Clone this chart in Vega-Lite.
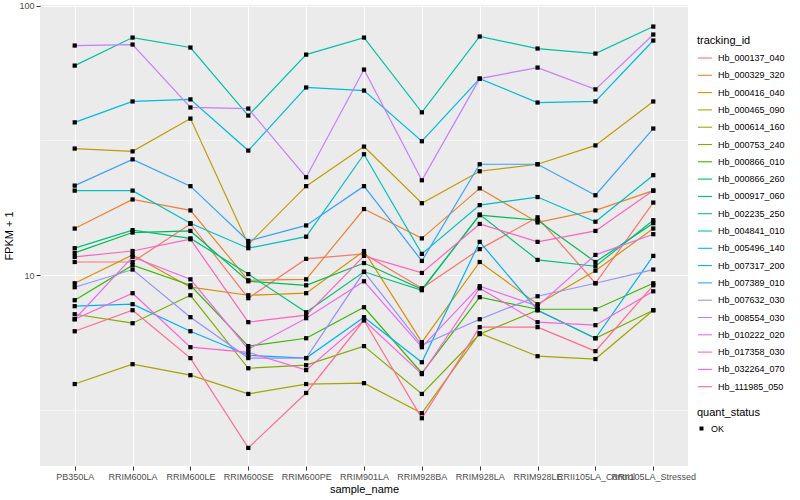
{
"$schema":"https://vega.github.io/schema/vega-lite/v6.json",
"width":648,"height":461,
"autosize":{"type":"none"},
"padding":{"left":40,"top":5,"right":112,"bottom":34},
"background":"white",
"config":{
 "font":"Liberation Sans",
 "view":{"fill":"#EBEBEB","stroke":null},
 "axis":{"domain":false,"gridColor":"white","tickColor":"#333333","tickSize":4,"labelColor":"#4D4D4D","labelFontSize":9,"titleFontSize":11,"titleFontWeight":"normal","titleColor":"black","labelPadding":2},
 "legend":{"labelFontSize":9,"labelColor":"black","titleFontSize":11,"titleFontWeight":"normal","titleColor":"black","labelOffset":5,"titlePadding":6}
},
"data":{"values":[
{"tracking_id":"Hb_000137_040","sample_name":"PB350LA","FPKM":11.2,"quant_status":"OK"},
{"tracking_id":"Hb_000137_040","sample_name":"RRIM600LA","FPKM":11.2,"quant_status":"OK"},
{"tracking_id":"Hb_000137_040","sample_name":"RRIM600LE","FPKM":15.5,"quant_status":"OK"},
{"tracking_id":"Hb_000137_040","sample_name":"RRIM600SE","FPKM":8.22,"quant_status":"OK"},
{"tracking_id":"Hb_000137_040","sample_name":"RRIM600PE","FPKM":11.5,"quant_status":"OK"},
{"tracking_id":"Hb_000137_040","sample_name":"RRIM901LA","FPKM":12.0,"quant_status":"OK"},
{"tracking_id":"Hb_000137_040","sample_name":"RRIM928BA","FPKM":8.95,"quant_status":"OK"},
{"tracking_id":"Hb_000137_040","sample_name":"RRIM928LA","FPKM":12.5,"quant_status":"OK"},
{"tracking_id":"Hb_000137_040","sample_name":"RRIM928LE","FPKM":16.4,"quant_status":"OK"},
{"tracking_id":"Hb_000137_040","sample_name":"RRII105LA_Control","FPKM":9.34,"quant_status":"OK"},
{"tracking_id":"Hb_000137_040","sample_name":"RRII105LA_Stressed","FPKM":18.6,"quant_status":"OK"},
{"tracking_id":"Hb_000329_320","sample_name":"PB350LA","FPKM":14.9,"quant_status":"OK"},
{"tracking_id":"Hb_000329_320","sample_name":"RRIM600LA","FPKM":19.1,"quant_status":"OK"},
{"tracking_id":"Hb_000329_320","sample_name":"RRIM600LE","FPKM":17.4,"quant_status":"OK"},
{"tracking_id":"Hb_000329_320","sample_name":"RRIM600SE","FPKM":9.58,"quant_status":"OK"},
{"tracking_id":"Hb_000329_320","sample_name":"RRIM600PE","FPKM":9.66,"quant_status":"OK"},
{"tracking_id":"Hb_000329_320","sample_name":"RRIM901LA","FPKM":17.6,"quant_status":"OK"},
{"tracking_id":"Hb_000329_320","sample_name":"RRIM928BA","FPKM":13.7,"quant_status":"OK"},
{"tracking_id":"Hb_000329_320","sample_name":"RRIM928LA","FPKM":21.0,"quant_status":"OK"},
{"tracking_id":"Hb_000329_320","sample_name":"RRIM928LE","FPKM":15.7,"quant_status":"OK"},
{"tracking_id":"Hb_000329_320","sample_name":"RRII105LA_Control","FPKM":17.4,"quant_status":"OK"},
{"tracking_id":"Hb_000329_320","sample_name":"RRII105LA_Stressed","FPKM":20.6,"quant_status":"OK"},
{"tracking_id":"Hb_000416_040","sample_name":"PB350LA","FPKM":9.34,"quant_status":"OK"},
{"tracking_id":"Hb_000416_040","sample_name":"RRIM600LA","FPKM":11.9,"quant_status":"OK"},
{"tracking_id":"Hb_000416_040","sample_name":"RRIM600LE","FPKM":9.03,"quant_status":"OK"},
{"tracking_id":"Hb_000416_040","sample_name":"RRIM600SE","FPKM":8.43,"quant_status":"OK"},
{"tracking_id":"Hb_000416_040","sample_name":"RRIM600PE","FPKM":8.58,"quant_status":"OK"},
{"tracking_id":"Hb_000416_040","sample_name":"RRIM901LA","FPKM":12.3,"quant_status":"OK"},
{"tracking_id":"Hb_000416_040","sample_name":"RRIM928BA","FPKM":5.65,"quant_status":"OK"},
{"tracking_id":"Hb_000416_040","sample_name":"RRIM928LA","FPKM":11.2,"quant_status":"OK"},
{"tracking_id":"Hb_000416_040","sample_name":"RRIM928LE","FPKM":7.81,"quant_status":"OK"},
{"tracking_id":"Hb_000416_040","sample_name":"RRII105LA_Control","FPKM":10.4,"quant_status":"OK"},
{"tracking_id":"Hb_000416_040","sample_name":"RRII105LA_Stressed","FPKM":14.9,"quant_status":"OK"},
{"tracking_id":"Hb_000465_090","sample_name":"PB350LA","FPKM":29.5,"quant_status":"OK"},
{"tracking_id":"Hb_000465_090","sample_name":"RRIM600LA","FPKM":28.8,"quant_status":"OK"},
{"tracking_id":"Hb_000465_090","sample_name":"RRIM600LE","FPKM":38.1,"quant_status":"OK"},
{"tracking_id":"Hb_000465_090","sample_name":"RRIM600SE","FPKM":13.0,"quant_status":"OK"},
{"tracking_id":"Hb_000465_090","sample_name":"RRIM600PE","FPKM":21.4,"quant_status":"OK"},
{"tracking_id":"Hb_000465_090","sample_name":"RRIM901LA","FPKM":30.0,"quant_status":"OK"},
{"tracking_id":"Hb_000465_090","sample_name":"RRIM928BA","FPKM":18.5,"quant_status":"OK"},
{"tracking_id":"Hb_000465_090","sample_name":"RRIM928LA","FPKM":24.3,"quant_status":"OK"},
{"tracking_id":"Hb_000465_090","sample_name":"RRIM928LE","FPKM":25.8,"quant_status":"OK"},
{"tracking_id":"Hb_000465_090","sample_name":"RRII105LA_Control","FPKM":30.3,"quant_status":"OK"},
{"tracking_id":"Hb_000465_090","sample_name":"RRII105LA_Stressed","FPKM":44.1,"quant_status":"OK"},
{"tracking_id":"Hb_000614_160","sample_name":"PB350LA","FPKM":3.95,"quant_status":"OK"},
{"tracking_id":"Hb_000614_160","sample_name":"RRIM600LA","FPKM":4.68,"quant_status":"OK"},
{"tracking_id":"Hb_000614_160","sample_name":"RRIM600LE","FPKM":4.26,"quant_status":"OK"},
{"tracking_id":"Hb_000614_160","sample_name":"RRIM600SE","FPKM":3.63,"quant_status":"OK"},
{"tracking_id":"Hb_000614_160","sample_name":"RRIM600PE","FPKM":3.95,"quant_status":"OK"},
{"tracking_id":"Hb_000614_160","sample_name":"RRIM901LA","FPKM":3.98,"quant_status":"OK"},
{"tracking_id":"Hb_000614_160","sample_name":"RRIM928BA","FPKM":3.08,"quant_status":"OK"},
{"tracking_id":"Hb_000614_160","sample_name":"RRIM928LA","FPKM":6.10,"quant_status":"OK"},
{"tracking_id":"Hb_000614_160","sample_name":"RRIM928LE","FPKM":5.01,"quant_status":"OK"},
{"tracking_id":"Hb_000614_160","sample_name":"RRII105LA_Control","FPKM":4.89,"quant_status":"OK"},
{"tracking_id":"Hb_000614_160","sample_name":"RRII105LA_Stressed","FPKM":7.42,"quant_status":"OK"},
{"tracking_id":"Hb_000753_240","sample_name":"PB350LA","FPKM":7.17,"quant_status":"OK"},
{"tracking_id":"Hb_000753_240","sample_name":"RRIM600LA","FPKM":6.64,"quant_status":"OK"},
{"tracking_id":"Hb_000753_240","sample_name":"RRIM600LE","FPKM":8.43,"quant_status":"OK"},
{"tracking_id":"Hb_000753_240","sample_name":"RRIM600SE","FPKM":4.52,"quant_status":"OK"},
{"tracking_id":"Hb_000753_240","sample_name":"RRIM600PE","FPKM":4.64,"quant_status":"OK"},
{"tracking_id":"Hb_000753_240","sample_name":"RRIM901LA","FPKM":5.46,"quant_status":"OK"},
{"tracking_id":"Hb_000753_240","sample_name":"RRIM928BA","FPKM":3.63,"quant_status":"OK"},
{"tracking_id":"Hb_000753_240","sample_name":"RRIM928LA","FPKM":6.05,"quant_status":"OK"},
{"tracking_id":"Hb_000753_240","sample_name":"RRIM928LE","FPKM":7.42,"quant_status":"OK"},
{"tracking_id":"Hb_000753_240","sample_name":"RRII105LA_Control","FPKM":5.84,"quant_status":"OK"},
{"tracking_id":"Hb_000753_240","sample_name":"RRII105LA_Stressed","FPKM":7.42,"quant_status":"OK"},
{"tracking_id":"Hb_000866_010","sample_name":"PB350LA","FPKM":8.08,"quant_status":"OK"},
{"tracking_id":"Hb_000866_010","sample_name":"RRIM600LA","FPKM":10.9,"quant_status":"OK"},
{"tracking_id":"Hb_000866_010","sample_name":"RRIM600LE","FPKM":9.18,"quant_status":"OK"},
{"tracking_id":"Hb_000866_010","sample_name":"RRIM600SE","FPKM":5.46,"quant_status":"OK"},
{"tracking_id":"Hb_000866_010","sample_name":"RRIM600PE","FPKM":5.84,"quant_status":"OK"},
{"tracking_id":"Hb_000866_010","sample_name":"RRIM901LA","FPKM":7.61,"quant_status":"OK"},
{"tracking_id":"Hb_000866_010","sample_name":"RRIM928BA","FPKM":4.34,"quant_status":"OK"},
{"tracking_id":"Hb_000866_010","sample_name":"RRIM928LA","FPKM":8.29,"quant_status":"OK"},
{"tracking_id":"Hb_000866_010","sample_name":"RRIM928LE","FPKM":7.48,"quant_status":"OK"},
{"tracking_id":"Hb_000866_010","sample_name":"RRII105LA_Control","FPKM":7.48,"quant_status":"OK"},
{"tracking_id":"Hb_000866_010","sample_name":"RRII105LA_Stressed","FPKM":9.34,"quant_status":"OK"},
{"tracking_id":"Hb_000866_260","sample_name":"PB350LA","FPKM":12.1,"quant_status":"OK"},
{"tracking_id":"Hb_000866_260","sample_name":"RRIM600LA","FPKM":14.4,"quant_status":"OK"},
{"tracking_id":"Hb_000866_260","sample_name":"RRIM600LE","FPKM":14.6,"quant_status":"OK"},
{"tracking_id":"Hb_000866_260","sample_name":"RRIM600SE","FPKM":9.50,"quant_status":"OK"},
{"tracking_id":"Hb_000866_260","sample_name":"RRIM600PE","FPKM":9.18,"quant_status":"OK"},
{"tracking_id":"Hb_000866_260","sample_name":"RRIM901LA","FPKM":11.1,"quant_status":"OK"},
{"tracking_id":"Hb_000866_260","sample_name":"RRIM928BA","FPKM":8.87,"quant_status":"OK"},
{"tracking_id":"Hb_000866_260","sample_name":"RRIM928LA","FPKM":16.7,"quant_status":"OK"},
{"tracking_id":"Hb_000866_260","sample_name":"RRIM928LE","FPKM":16.0,"quant_status":"OK"},
{"tracking_id":"Hb_000866_260","sample_name":"RRII105LA_Control","FPKM":11.2,"quant_status":"OK"},
{"tracking_id":"Hb_000866_260","sample_name":"RRII105LA_Stressed","FPKM":15.6,"quant_status":"OK"},
{"tracking_id":"Hb_000917_060","sample_name":"PB350LA","FPKM":12.6,"quant_status":"OK"},
{"tracking_id":"Hb_000917_060","sample_name":"RRIM600LA","FPKM":14.7,"quant_status":"OK"},
{"tracking_id":"Hb_000917_060","sample_name":"RRIM600LE","FPKM":13.7,"quant_status":"OK"},
{"tracking_id":"Hb_000917_060","sample_name":"RRIM600SE","FPKM":10.1,"quant_status":"OK"},
{"tracking_id":"Hb_000917_060","sample_name":"RRIM600PE","FPKM":7.29,"quant_status":"OK"},
{"tracking_id":"Hb_000917_060","sample_name":"RRIM901LA","FPKM":10.3,"quant_status":"OK"},
{"tracking_id":"Hb_000917_060","sample_name":"RRIM928BA","FPKM":8.80,"quant_status":"OK"},
{"tracking_id":"Hb_000917_060","sample_name":"RRIM928LA","FPKM":16.8,"quant_status":"OK"},
{"tracking_id":"Hb_000917_060","sample_name":"RRIM928LE","FPKM":11.4,"quant_status":"OK"},
{"tracking_id":"Hb_000917_060","sample_name":"RRII105LA_Control","FPKM":10.8,"quant_status":"OK"},
{"tracking_id":"Hb_000917_060","sample_name":"RRII105LA_Stressed","FPKM":16.0,"quant_status":"OK"},
{"tracking_id":"Hb_002235_250","sample_name":"PB350LA","FPKM":59.9,"quant_status":"OK"},
{"tracking_id":"Hb_002235_250","sample_name":"RRIM600LA","FPKM":76.1,"quant_status":"OK"},
{"tracking_id":"Hb_002235_250","sample_name":"RRIM600LE","FPKM":69.9,"quant_status":"OK"},
{"tracking_id":"Hb_002235_250","sample_name":"RRIM600SE","FPKM":39.1,"quant_status":"OK"},
{"tracking_id":"Hb_002235_250","sample_name":"RRIM600PE","FPKM":65.8,"quant_status":"OK"},
{"tracking_id":"Hb_002235_250","sample_name":"RRIM901LA","FPKM":76.1,"quant_status":"OK"},
{"tracking_id":"Hb_002235_250","sample_name":"RRIM928BA","FPKM":40.2,"quant_status":"OK"},
{"tracking_id":"Hb_002235_250","sample_name":"RRIM928LA","FPKM":76.8,"quant_status":"OK"},
{"tracking_id":"Hb_002235_250","sample_name":"RRIM928LE","FPKM":69.3,"quant_status":"OK"},
{"tracking_id":"Hb_002235_250","sample_name":"RRII105LA_Control","FPKM":66.4,"quant_status":"OK"},
{"tracking_id":"Hb_002235_250","sample_name":"RRII105LA_Stressed","FPKM":83.6,"quant_status":"OK"},
{"tracking_id":"Hb_004841_010","sample_name":"PB350LA","FPKM":20.6,"quant_status":"OK"},
{"tracking_id":"Hb_004841_010","sample_name":"RRIM600LA","FPKM":20.6,"quant_status":"OK"},
{"tracking_id":"Hb_004841_010","sample_name":"RRIM600LE","FPKM":15.6,"quant_status":"OK"},
{"tracking_id":"Hb_004841_010","sample_name":"RRIM600SE","FPKM":12.6,"quant_status":"OK"},
{"tracking_id":"Hb_004841_010","sample_name":"RRIM600PE","FPKM":13.9,"quant_status":"OK"},
{"tracking_id":"Hb_004841_010","sample_name":"RRIM901LA","FPKM":28.1,"quant_status":"OK"},
{"tracking_id":"Hb_004841_010","sample_name":"RRIM928BA","FPKM":12.0,"quant_status":"OK"},
{"tracking_id":"Hb_004841_010","sample_name":"RRIM928LA","FPKM":18.2,"quant_status":"OK"},
{"tracking_id":"Hb_004841_010","sample_name":"RRIM928LE","FPKM":19.5,"quant_status":"OK"},
{"tracking_id":"Hb_004841_010","sample_name":"RRII105LA_Control","FPKM":15.8,"quant_status":"OK"},
{"tracking_id":"Hb_004841_010","sample_name":"RRII105LA_Stressed","FPKM":23.5,"quant_status":"OK"},
{"tracking_id":"Hb_005496_140","sample_name":"PB350LA","FPKM":36.9,"quant_status":"OK"},
{"tracking_id":"Hb_005496_140","sample_name":"RRIM600LA","FPKM":44.1,"quant_status":"OK"},
{"tracking_id":"Hb_005496_140","sample_name":"RRIM600LE","FPKM":44.9,"quant_status":"OK"},
{"tracking_id":"Hb_005496_140","sample_name":"RRIM600SE","FPKM":29.0,"quant_status":"OK"},
{"tracking_id":"Hb_005496_140","sample_name":"RRIM600PE","FPKM":49.7,"quant_status":"OK"},
{"tracking_id":"Hb_005496_140","sample_name":"RRIM901LA","FPKM":48.4,"quant_status":"OK"},
{"tracking_id":"Hb_005496_140","sample_name":"RRIM928BA","FPKM":31.4,"quant_status":"OK"},
{"tracking_id":"Hb_005496_140","sample_name":"RRIM928LA","FPKM":53.6,"quant_status":"OK"},
{"tracking_id":"Hb_005496_140","sample_name":"RRIM928LE","FPKM":43.7,"quant_status":"OK"},
{"tracking_id":"Hb_005496_140","sample_name":"RRII105LA_Control","FPKM":44.1,"quant_status":"OK"},
{"tracking_id":"Hb_005496_140","sample_name":"RRII105LA_Stressed","FPKM":74.2,"quant_status":"OK"},
{"tracking_id":"Hb_007317_200","sample_name":"PB350LA","FPKM":7.68,"quant_status":"OK"},
{"tracking_id":"Hb_007317_200","sample_name":"RRIM600LA","FPKM":7.81,"quant_status":"OK"},
{"tracking_id":"Hb_007317_200","sample_name":"RRIM600LE","FPKM":6.20,"quant_status":"OK"},
{"tracking_id":"Hb_007317_200","sample_name":"RRIM600SE","FPKM":5.05,"quant_status":"OK"},
{"tracking_id":"Hb_007317_200","sample_name":"RRIM600PE","FPKM":4.93,"quant_status":"OK"},
{"tracking_id":"Hb_007317_200","sample_name":"RRIM901LA","FPKM":6.99,"quant_status":"OK"},
{"tracking_id":"Hb_007317_200","sample_name":"RRIM928BA","FPKM":4.76,"quant_status":"OK"},
{"tracking_id":"Hb_007317_200","sample_name":"RRIM928LA","FPKM":13.3,"quant_status":"OK"},
{"tracking_id":"Hb_007317_200","sample_name":"RRIM928LE","FPKM":7.42,"quant_status":"OK"},
{"tracking_id":"Hb_007317_200","sample_name":"RRII105LA_Control","FPKM":5.84,"quant_status":"OK"},
{"tracking_id":"Hb_007317_200","sample_name":"RRII105LA_Stressed","FPKM":11.8,"quant_status":"OK"},
{"tracking_id":"Hb_007389_010","sample_name":"PB350LA","FPKM":21.5,"quant_status":"OK"},
{"tracking_id":"Hb_007389_010","sample_name":"RRIM600LA","FPKM":26.9,"quant_status":"OK"},
{"tracking_id":"Hb_007389_010","sample_name":"RRIM600LE","FPKM":21.4,"quant_status":"OK"},
{"tracking_id":"Hb_007389_010","sample_name":"RRIM600SE","FPKM":13.4,"quant_status":"OK"},
{"tracking_id":"Hb_007389_010","sample_name":"RRIM600PE","FPKM":15.3,"quant_status":"OK"},
{"tracking_id":"Hb_007389_010","sample_name":"RRIM901LA","FPKM":21.4,"quant_status":"OK"},
{"tracking_id":"Hb_007389_010","sample_name":"RRIM928BA","FPKM":11.3,"quant_status":"OK"},
{"tracking_id":"Hb_007389_010","sample_name":"RRIM928LA","FPKM":25.8,"quant_status":"OK"},
{"tracking_id":"Hb_007389_010","sample_name":"RRIM928LE","FPKM":25.8,"quant_status":"OK"},
{"tracking_id":"Hb_007389_010","sample_name":"RRII105LA_Control","FPKM":19.8,"quant_status":"OK"},
{"tracking_id":"Hb_007389_010","sample_name":"RRII105LA_Stressed","FPKM":35.0,"quant_status":"OK"},
{"tracking_id":"Hb_007632_030","sample_name":"PB350LA","FPKM":9.03,"quant_status":"OK"},
{"tracking_id":"Hb_007632_030","sample_name":"RRIM600LA","FPKM":10.5,"quant_status":"OK"},
{"tracking_id":"Hb_007632_030","sample_name":"RRIM600LE","FPKM":6.99,"quant_status":"OK"},
{"tracking_id":"Hb_007632_030","sample_name":"RRIM600SE","FPKM":4.93,"quant_status":"OK"},
{"tracking_id":"Hb_007632_030","sample_name":"RRIM600PE","FPKM":4.93,"quant_status":"OK"},
{"tracking_id":"Hb_007632_030","sample_name":"RRIM901LA","FPKM":10.3,"quant_status":"OK"},
{"tracking_id":"Hb_007632_030","sample_name":"RRIM928BA","FPKM":5.51,"quant_status":"OK"},
{"tracking_id":"Hb_007632_030","sample_name":"RRIM928LA","FPKM":6.87,"quant_status":"OK"},
{"tracking_id":"Hb_007632_030","sample_name":"RRIM928LE","FPKM":8.36,"quant_status":"OK"},
{"tracking_id":"Hb_007632_030","sample_name":"RRII105LA_Control","FPKM":9.34,"quant_status":"OK"},
{"tracking_id":"Hb_007632_030","sample_name":"RRII105LA_Stressed","FPKM":10.5,"quant_status":"OK"},
{"tracking_id":"Hb_008554_030","sample_name":"PB350LA","FPKM":71.1,"quant_status":"OK"},
{"tracking_id":"Hb_008554_030","sample_name":"RRIM600LA","FPKM":71.7,"quant_status":"OK"},
{"tracking_id":"Hb_008554_030","sample_name":"RRIM600LE","FPKM":41.9,"quant_status":"OK"},
{"tracking_id":"Hb_008554_030","sample_name":"RRIM600SE","FPKM":41.5,"quant_status":"OK"},
{"tracking_id":"Hb_008554_030","sample_name":"RRIM600PE","FPKM":23.1,"quant_status":"OK"},
{"tracking_id":"Hb_008554_030","sample_name":"RRIM901LA","FPKM":57.9,"quant_status":"OK"},
{"tracking_id":"Hb_008554_030","sample_name":"RRIM928BA","FPKM":22.5,"quant_status":"OK"},
{"tracking_id":"Hb_008554_030","sample_name":"RRIM928LA","FPKM":53.6,"quant_status":"OK"},
{"tracking_id":"Hb_008554_030","sample_name":"RRIM928LE","FPKM":58.9,"quant_status":"OK"},
{"tracking_id":"Hb_008554_030","sample_name":"RRII105LA_Control","FPKM":48.9,"quant_status":"OK"},
{"tracking_id":"Hb_008554_030","sample_name":"RRII105LA_Stressed","FPKM":78.1,"quant_status":"OK"},
{"tracking_id":"Hb_010222_020","sample_name":"PB350LA","FPKM":6.87,"quant_status":"OK"},
{"tracking_id":"Hb_010222_020","sample_name":"RRIM600LA","FPKM":11.7,"quant_status":"OK"},
{"tracking_id":"Hb_010222_020","sample_name":"RRIM600LE","FPKM":9.66,"quant_status":"OK"},
{"tracking_id":"Hb_010222_020","sample_name":"RRIM600SE","FPKM":5.32,"quant_status":"OK"},
{"tracking_id":"Hb_010222_020","sample_name":"RRIM600PE","FPKM":6.93,"quant_status":"OK"},
{"tracking_id":"Hb_010222_020","sample_name":"RRIM901LA","FPKM":9.50,"quant_status":"OK"},
{"tracking_id":"Hb_010222_020","sample_name":"RRIM928BA","FPKM":5.41,"quant_status":"OK"},
{"tracking_id":"Hb_010222_020","sample_name":"RRIM928LA","FPKM":9.11,"quant_status":"OK"},
{"tracking_id":"Hb_010222_020","sample_name":"RRIM928LE","FPKM":7.68,"quant_status":"OK"},
{"tracking_id":"Hb_010222_020","sample_name":"RRII105LA_Control","FPKM":11.9,"quant_status":"OK"},
{"tracking_id":"Hb_010222_020","sample_name":"RRII105LA_Stressed","FPKM":14.2,"quant_status":"OK"},
{"tracking_id":"Hb_017358_030","sample_name":"PB350LA","FPKM":6.87,"quant_status":"OK"},
{"tracking_id":"Hb_017358_030","sample_name":"RRIM600LA","FPKM":8.58,"quant_status":"OK"},
{"tracking_id":"Hb_017358_030","sample_name":"RRIM600LE","FPKM":5.41,"quant_status":"OK"},
{"tracking_id":"Hb_017358_030","sample_name":"RRIM600SE","FPKM":5.18,"quant_status":"OK"},
{"tracking_id":"Hb_017358_030","sample_name":"RRIM600PE","FPKM":4.45,"quant_status":"OK"},
{"tracking_id":"Hb_017358_030","sample_name":"RRIM901LA","FPKM":6.81,"quant_status":"OK"},
{"tracking_id":"Hb_017358_030","sample_name":"RRIM928BA","FPKM":4.30,"quant_status":"OK"},
{"tracking_id":"Hb_017358_030","sample_name":"RRIM928LA","FPKM":8.95,"quant_status":"OK"},
{"tracking_id":"Hb_017358_030","sample_name":"RRIM928LE","FPKM":6.70,"quant_status":"OK"},
{"tracking_id":"Hb_017358_030","sample_name":"RRII105LA_Control","FPKM":6.53,"quant_status":"OK"},
{"tracking_id":"Hb_017358_030","sample_name":"RRII105LA_Stressed","FPKM":8.72,"quant_status":"OK"},
{"tracking_id":"Hb_032264_070","sample_name":"PB350LA","FPKM":11.7,"quant_status":"OK"},
{"tracking_id":"Hb_032264_070","sample_name":"RRIM600LA","FPKM":12.3,"quant_status":"OK"},
{"tracking_id":"Hb_032264_070","sample_name":"RRIM600LE","FPKM":13.6,"quant_status":"OK"},
{"tracking_id":"Hb_032264_070","sample_name":"RRIM600SE","FPKM":6.70,"quant_status":"OK"},
{"tracking_id":"Hb_032264_070","sample_name":"RRIM600PE","FPKM":7.11,"quant_status":"OK"},
{"tracking_id":"Hb_032264_070","sample_name":"RRIM901LA","FPKM":11.8,"quant_status":"OK"},
{"tracking_id":"Hb_032264_070","sample_name":"RRIM928BA","FPKM":10.2,"quant_status":"OK"},
{"tracking_id":"Hb_032264_070","sample_name":"RRIM928LA","FPKM":15.5,"quant_status":"OK"},
{"tracking_id":"Hb_032264_070","sample_name":"RRIM928LE","FPKM":13.3,"quant_status":"OK"},
{"tracking_id":"Hb_032264_070","sample_name":"RRII105LA_Control","FPKM":14.6,"quant_status":"OK"},
{"tracking_id":"Hb_032264_070","sample_name":"RRII105LA_Stressed","FPKM":20.6,"quant_status":"OK"},
{"tracking_id":"Hb_111985_050","sample_name":"PB350LA","FPKM":6.20,"quant_status":"OK"},
{"tracking_id":"Hb_111985_050","sample_name":"RRIM600LA","FPKM":7.42,"quant_status":"OK"},
{"tracking_id":"Hb_111985_050","sample_name":"RRIM600LE","FPKM":4.93,"quant_status":"OK"},
{"tracking_id":"Hb_111985_050","sample_name":"RRIM600SE","FPKM":2.29,"quant_status":"OK"},
{"tracking_id":"Hb_111985_050","sample_name":"RRIM600PE","FPKM":3.66,"quant_status":"OK"},
{"tracking_id":"Hb_111985_050","sample_name":"RRIM901LA","FPKM":6.81,"quant_status":"OK"},
{"tracking_id":"Hb_111985_050","sample_name":"RRIM928BA","FPKM":2.95,"quant_status":"OK"},
{"tracking_id":"Hb_111985_050","sample_name":"RRIM928LA","FPKM":6.42,"quant_status":"OK"},
{"tracking_id":"Hb_111985_050","sample_name":"RRIM928LE","FPKM":6.42,"quant_status":"OK"},
{"tracking_id":"Hb_111985_050","sample_name":"RRII105LA_Control","FPKM":5.23,"quant_status":"OK"},
{"tracking_id":"Hb_111985_050","sample_name":"RRII105LA_Stressed","FPKM":9.18,"quant_status":"OK"}
]},
"encoding":{
 "x":{"field":"sample_name","type":"nominal","sort":["PB350LA","RRIM600LA","RRIM600LE","RRIM600SE","RRIM600PE","RRIM901LA","RRIM928BA","RRIM928LA","RRIM928LE","RRII105LA_Control","RRII105LA_Stressed"],"scale":{"type":"point","padding":0.6},"axis":{"labelAngle":0,"labelOverlap":false,"labelBound":false,"grid":true,"gridWidth":1.1,"title":"sample_name","titlePadding":2}},
 "y":{"field":"FPKM","type":"quantitative","scale":{"type":"log","domain":[1.962,100.5],"nice":false,"zero":false},"axis":{"values":[3.1623,10,31.623,100],"title":"FPKM + 1","titlePadding":4,"labelExpr":"datum.value == 10 ? '10' : (datum.value == 100 ? '100' : '')","gridWidth":{"condition":{"test":"datum.value == 10 || datum.value == 100","value":1.1},"value":0.5},"tickOpacity":{"condition":{"test":"datum.value == 10 || datum.value == 100","value":1},"value":0}}}
},
"layer":[
 {"mark":{"type":"line","strokeWidth":1.2},
  "encoding":{"color":{"field":"tracking_id","type":"nominal","scale":{"domain":["Hb_000137_040","Hb_000329_320","Hb_000416_040","Hb_000465_090","Hb_000614_160","Hb_000753_240","Hb_000866_010","Hb_000866_260","Hb_000917_060","Hb_002235_250","Hb_004841_010","Hb_005496_140","Hb_007317_200","Hb_007389_010","Hb_007632_030","Hb_008554_030","Hb_010222_020","Hb_017358_030","Hb_032264_070","Hb_111985_050"],"range":["#F8766D","#EA8331","#D89000","#C09B00","#A3A500","#7CAE00","#39B600","#00BB4E","#00BF7D","#00C1A3","#00BFC4","#00BAE0","#00B0F6","#35A2FF","#9590FF","#C77CFF","#E76BF3","#FA62DB","#FF62BC","#FF6C91"]},"legend":{"orient":"none","legendX":657,"legendY":30,"title":"tracking_id","titlePadding":4,"symbolType":"stroke","symbolSize":200,"symbolStrokeWidth":1.1,"rowPadding":4.3}}}},
 {"mark":{"type":"point","shape":"square","filled":true,"color":"black","opacity":1,"size":18},
  "encoding":{"shape":{"field":"quant_status","type":"nominal","scale":{"range":["square"]},"legend":{"orient":"none","legendX":657,"legendY":402,"title":"quant_status","symbolFillColor":"black","symbolStrokeColor":"black","symbolSize":16}}}}
]
}
